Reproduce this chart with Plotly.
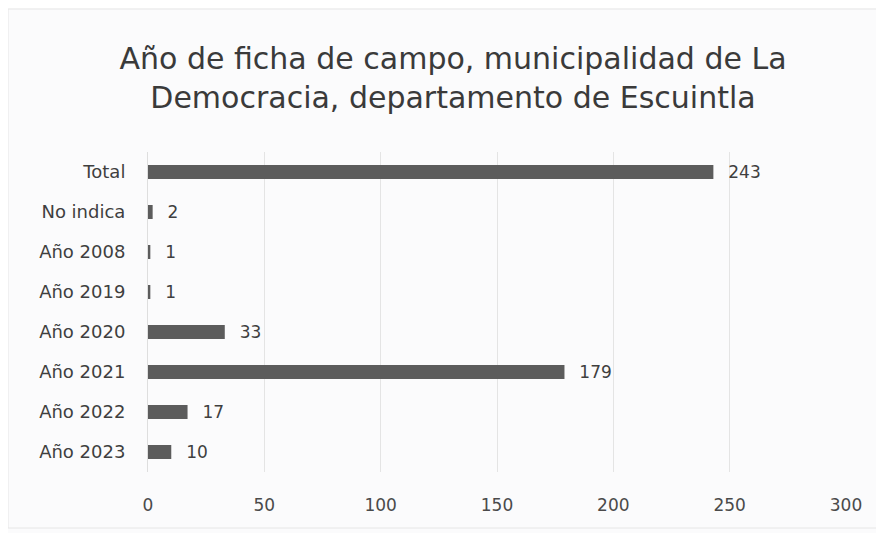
import plotly.graph_objects as go

categories = ["Total", "No indica", "Año 2008", "Año 2019", "Año 2020", "Año 2021", "Año 2022", "Año 2023"]
values = [243, 2, 1, 1, 33, 179, 17, 10]
tick_vals = [0, 50, 100, 150, 200, 250, 300]

FONT = "DejaVu Sans"
L, R, T, B = 140, 46, 144, 69
PW, PH = 884 - L - R, 533 - T - B

fig = go.Figure(go.Bar(
    y=categories, x=values, orientation="h",
    marker=dict(color="#5c5c5c", line=dict(width=0)),
    text=values, texttemplate="\u2002\u2009%{x}", textposition="outside",
    constraintext="none",
    textfont=dict(family=FONT, size=17, color="#3f3f3f"),
    cliponaxis=False,
))

fig.update_layout(
    width=884, height=533,
    margin=dict(l=L, r=R, t=T, b=B),
    paper_bgcolor="#fbfbfc", plot_bgcolor="#fbfbfc",
    title=dict(
        text="Año de ficha de campo, municipalidad de La<br>Democracia, departamento de Escuintla",
        x=445 / 884, xanchor="center", y=0.886, yanchor="top",
        font=dict(family=FONT, size=30, color="#3a3a3a"),
    ),
    bargap=0.65,
    showlegend=False,
    font=dict(family=FONT, color="#505050"),
)
fig.update_xaxes(
    range=[0, 300], tickvals=tick_vals, showgrid=True, gridcolor="#e4e4e4", gridwidth=1,
    zeroline=False, showline=False, ticks="", tickfont=dict(family=FONT, size=17, color="#4a4a4a"),
    ticklabelstandoff=21, automargin=False,
)
fig.update_yaxes(
    categoryorder="array", categoryarray=categories, autorange="reversed",
    showgrid=False, showline=True, linecolor="#dedede", ticks="",
    tickfont=dict(family=FONT, size=18, color="#3f3f3f"), ticklabelstandoff=18,
    automargin=False,
)
fig.add_shape(type="rect", xref="paper", yref="paper",
              x0=(0 - L) / PW, x1=(870 - L) / PW,
              y0=(533 - B - 520) / PH, y1=(533 - B - 1) / PH,
              line=dict(color="#e6e6e6", width=1))
fig.write_html("out.html")
